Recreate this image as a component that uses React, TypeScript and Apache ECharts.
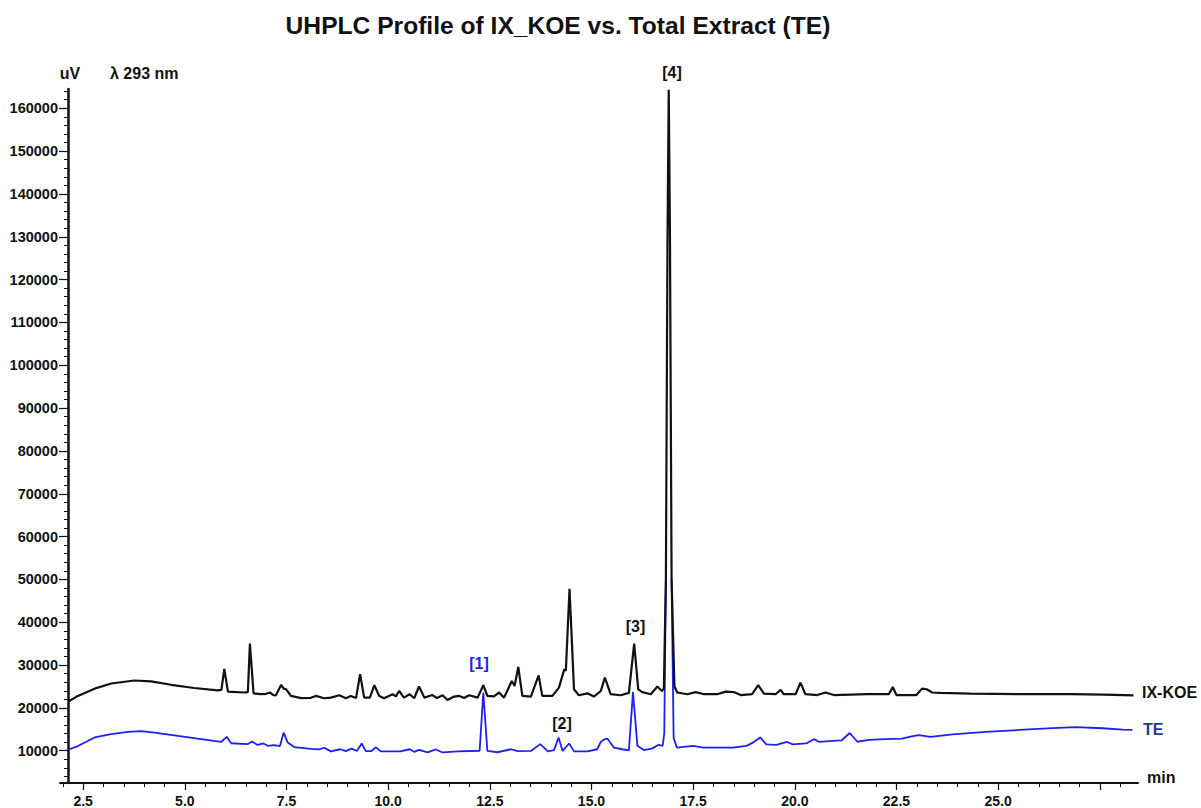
import React, { useEffect, useRef } from "react";
import * as echarts from "echarts";

const FONT = '"Liberation Sans", Arial, Helvetica, sans-serif';

// Retention time (min) vs signal (uV)
const koeTrace: [number, number][] = [
  [2.16, 21600], [2.37, 22800], [2.78, 24500], [3.19, 25700], [3.76, 26400], [4.17, 26200],
  [4.66, 25400], [5.23, 24650], [5.81, 24100], [5.9, 24200], [5.97, 29100], [6.06, 23800],
  [6.46, 23600], [6.55, 23700], [6.6, 35000], [6.69, 23400], [6.87, 23200], [7.0, 23300],
  [7.09, 23600], [7.18, 23000], [7.24, 22950], [7.37, 25400], [7.43, 24500], [7.49, 24350],
  [7.61, 22800], [7.86, 22300], [8.1, 22350], [8.22, 22800], [8.43, 22250], [8.59, 22400],
  [8.8, 22950], [8.96, 22250], [9.08, 22800], [9.21, 22300], [9.31, 27850], [9.41, 22400],
  [9.55, 22400], [9.66, 25300], [9.78, 22800], [9.9, 22250], [10.11, 23200], [10.19, 22700],
  [10.27, 23950], [10.39, 22400], [10.53, 23200], [10.64, 22250], [10.76, 25000], [10.89, 22400],
  [11.09, 23000], [11.2, 22300], [11.34, 22950], [11.46, 21850], [11.62, 22650], [11.75, 22800],
  [11.87, 22300], [11.99, 22950], [12.2, 22400], [12.34, 25300], [12.44, 22800], [12.6, 22700],
  [12.73, 23600], [12.85, 22400], [13.04, 26300], [13.11, 25100], [13.2, 29550], [13.3, 22800],
  [13.51, 22650], [13.7, 27600], [13.79, 22800], [14.04, 22800], [14.2, 24750], [14.33, 29000],
  [14.37, 28700], [14.46, 47800], [14.57, 24350], [14.69, 22950], [14.9, 23400], [15.06, 22650],
  [15.23, 23950], [15.33, 27100], [15.47, 23200], [15.72, 22950], [15.92, 23500], [16.05, 35000],
  [16.15, 24350], [16.25, 23700], [16.46, 23200], [16.62, 25000], [16.73, 23950], [16.78, 24500],
  [16.83, 50000], [16.87, 130000], [16.9, 164300], [16.93, 130000], [16.97, 50000], [17.04, 25000],
  [17.11, 23600], [17.36, 23200], [17.56, 23700], [17.77, 23200], [18.09, 23200], [18.3, 23800],
  [18.5, 23700], [18.67, 23000], [18.95, 23200], [19.1, 25300], [19.24, 23350], [19.53, 23200],
  [19.65, 24200], [19.73, 23200], [20.02, 23200], [20.14, 25900], [20.26, 23200], [20.55, 23000],
  [20.76, 23600], [20.96, 23000], [21.78, 23200], [22.31, 23200], [22.41, 24900], [22.5, 23000],
  [22.99, 23000], [23.13, 24500], [23.24, 24350], [23.38, 23600], [23.58, 23500], [24.32, 23350],
  [25.55, 23200], [26.78, 23200], [27.6, 23100], [28.33, 22950],
];

// the TE main peak top is hidden behind the IX-KOE peak (gap = null)
const teTrace: ([number, number] | null)[] = [
  [2.16, 10350], [2.37, 11100], [2.78, 13100], [3.19, 13900], [3.6, 14400], [3.93, 14600],
  [4.25, 14250], [4.83, 13450], [5.4, 12700], [5.89, 12050], [6.03, 13250], [6.14, 11750],
  [6.55, 11550], [6.65, 12150], [6.79, 11350], [6.93, 11700], [7.04, 11150], [7.2, 11300],
  [7.34, 11100], [7.43, 14250], [7.53, 11900], [7.69, 10850], [8.1, 10450], [8.3, 10300],
  [8.43, 10700], [8.59, 9850], [8.82, 10350], [8.96, 9900], [9.1, 10500], [9.23, 9950],
  [9.35, 11700], [9.45, 9900], [9.58, 9900], [9.7, 10800], [9.82, 9850], [10.3, 9850],
  [10.53, 10350], [10.64, 9750], [10.76, 10200], [10.97, 9600], [11.17, 10300], [11.34, 9600],
  [11.71, 9850], [12.25, 10000], [12.34, 23600], [12.44, 9950], [12.69, 9650], [13.02, 10350],
  [13.18, 9900], [13.51, 9950], [13.74, 11550], [13.93, 9850], [14.08, 10150], [14.19, 13100],
  [14.29, 9950], [14.45, 11700], [14.57, 9850], [14.9, 9850], [15.14, 10350], [15.23, 12050],
  [15.3, 12600], [15.39, 12850], [15.55, 10750], [15.76, 10350], [15.92, 10100], [16.02, 23700],
  [16.13, 11150], [16.29, 10150], [16.5, 10550], [16.64, 11350], [16.75, 11150], [16.79, 14000],
  [16.83, 50000], null, [16.97, 50000], [17.02, 13000],
  [17.1, 10750], [17.5, 11150], [17.75, 10750],
  [18.48, 10750], [18.81, 11150], [18.97, 11900], [19.15, 13100], [19.3, 11500], [19.55, 11350],
  [19.67, 11700], [19.81, 12050], [19.95, 11500], [20.28, 11700], [20.47, 12700], [20.61, 12050],
  [20.93, 12300], [21.15, 12400], [21.35, 14150], [21.54, 12100], [21.82, 12550], [22.23, 12700],
  [22.64, 12850], [22.84, 13300], [23.05, 13650], [23.34, 13250], [23.88, 13800], [24.7, 14400],
  [25.52, 14850], [26.34, 15300], [26.91, 15500], [27.56, 15250], [28.06, 14950], [28.3, 14850],
];

const xLabelValues = [2.5, 5, 7.5, 10, 12.5, 15, 17.5, 20, 22.5, 25];
const xMajorTicks = [2.5, 5, 7.5, 10, 12.5, 15, 17.5, 20, 22.5, 25, 27.5];
const yLabelValues = [
  10000, 20000, 30000, 40000, 50000, 60000, 70000, 80000,
  90000, 100000, 110000, 120000, 130000, 140000, 150000, 160000,
];

const X_MIN = 1.93;
const X_MAX = 28.44;
const Y_MIN = 2470;
const Y_MAX = 164500;

const xMinorTicks: number[] = [];
for (let i = 4; i <= 56; i++) xMinorTicks.push(i * 0.5);
const yMinorTicks: number[] = [];
for (let i = 2; i <= 82; i++) yMinorTicks.push(i * 2000);

const peakLabels = [
  { text: "[1]", x: 479, y: 663, color: "#2222ee" },
  { text: "[2]", x: 562, y: 723, color: "#111111" },
  { text: "[3]", x: 635.5, y: 626, color: "#111111" },
  { text: "[4]", x: 672, y: 72.5, color: "#111111" },
];

function txt(text: string, x: number, y: number, size: number, color: string, align: string) {
  return {
    type: "text",
    x,
    y,
    silent: true,
    style: {
      text,
      fill: color,
      fontSize: size,
      fontWeight: "bold",
      fontFamily: FONT,
      align,
      verticalAlign: "middle",
      textAlign: align,
      textVerticalAlign: "middle",
    },
  };
}

export default function App() {
  const ref = useRef<HTMLDivElement>(null);

  useEffect(() => {
    if (!ref.current) return;
    const chart = echarts.init(ref.current, undefined, { renderer: "svg" });
    const axisColor = "#111111";
    const option: any = {
      animation: false,
      backgroundColor: "#ffffff",
      grid: { left: 60, right: 63, top: 89, bottom: 24, containLabel: false },
      xAxis: [
        {
          type: "value",
          min: X_MIN,
          max: X_MAX,
          position: "bottom",
          axisLine: { show: true, onZero: false, lineStyle: { color: axisColor, width: 2 } },
          axisTick: { show: true, customValues: xMajorTicks, length: 7, lineStyle: { color: axisColor, width: 1.2 } },
          axisLabel: {
            show: true,
            customValues: xLabelValues,
            formatter: (v: number) => v.toFixed(1),
            fontSize: 14,
            fontWeight: "bold",
            fontFamily: FONT,
            color: axisColor,
            margin: 11,
          },
          splitLine: { show: false },
        },
        {
          type: "value",
          min: X_MIN,
          max: X_MAX,
          position: "bottom",
          axisLine: { show: false, onZero: false },
          axisTick: { show: true, customValues: xMinorTicks, length: 4, lineStyle: { color: axisColor, width: 1 } },
          axisLabel: { show: false },
          splitLine: { show: false },
        },
      ],
      yAxis: [
        {
          type: "value",
          min: Y_MIN,
          max: Y_MAX,
          position: "left",
          offset: -8,
          axisLine: { show: true, onZero: false, lineStyle: { color: axisColor, width: 2.5 } },
          axisTick: { show: true, customValues: yLabelValues, length: 9, lineStyle: { color: axisColor, width: 1.2 } },
          axisLabel: {
            show: true,
            customValues: yLabelValues,
            formatter: (v: number) => String(Math.round(v)),
            fontSize: 14.5,
            fontWeight: "bold",
            fontFamily: FONT,
            color: axisColor,
            margin: 10,
          },
          splitLine: { show: false },
        },
        {
          type: "value",
          min: Y_MIN,
          max: Y_MAX,
          position: "left",
          offset: -8,
          axisLine: { show: false, onZero: false },
          axisTick: { show: true, customValues: yMinorTicks, length: 4, lineStyle: { color: axisColor, width: 1 } },
          axisLabel: { show: false },
          splitLine: { show: false },
        },
      ],
      series: [
        {
          name: "TE",
          type: "line",
          xAxisIndex: 0,
          yAxisIndex: 0,
          z: 2,
          data: teTrace,
          connectNulls: false,
          showSymbol: false,
          symbol: "none",
          lineStyle: { color: "#1f1ff5", width: 1.8 },
          silent: true,
        },
        {
          name: "IX-KOE",
          type: "line",
          xAxisIndex: 0,
          yAxisIndex: 0,
          z: 4,
          data: koeTrace,
          showSymbol: false,
          symbol: "none",
          lineStyle: { color: "#111111", width: 2.2 },
          silent: true,
        },
      ],
      graphic: [
        txt("UHPLC Profile of IX_KOE vs. Total Extract (TE)", 558, 25, 24.6, "#111111", "center"),
        txt("uV", 70, 73, 16, "#111111", "center"),
        txt("λ 293 nm", 110, 73, 16, "#111111", "left"),
        txt("IX-KOE", 1142, 692, 16, "#111111", "left"),
        txt("TE", 1143, 729, 16, "#1f3a8f", "left"),
        txt("min", 1147, 777, 16, "#111111", "left"),
        ...peakLabels.map((p) => txt(p.text, p.x, p.y, 16, p.color, "center")),
      ],
    };
    chart.setOption(option);
    return () => chart.dispose();
  }, []);

  return (
    <div
      ref={ref}
      style={{ position: "fixed", left: 0, top: 0, width: 1201, height: 808, background: "#fff" }}
    />
  );
}
